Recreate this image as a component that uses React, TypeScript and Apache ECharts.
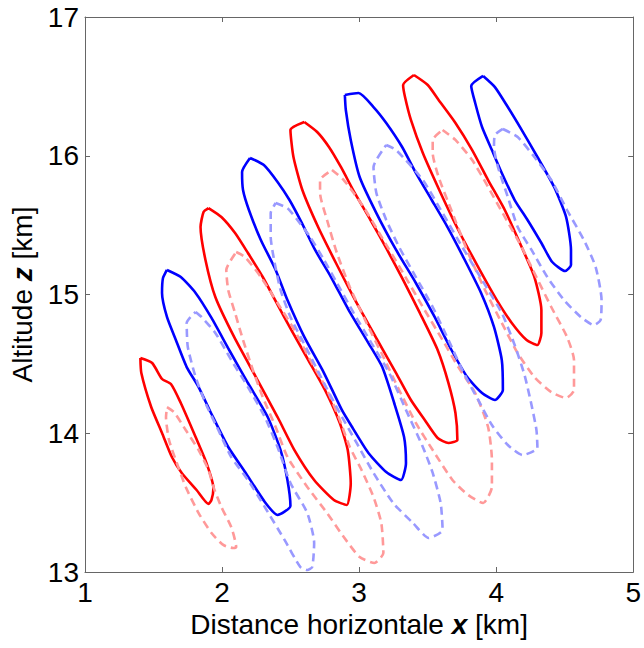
import React, { useEffect, useRef } from "react";
import * as echarts from "echarts";

// Axis ranges / ticks (km)
const xTicks = [1, 2, 3, 4, 5];
const yTicks = [13, 14, 15, 16, 17];

// Contour lines [x km, z km]
const red1 = [[1.404,14.542],[1.490,14.506],[1.562,14.391],[1.627,14.355],[1.699,14.218],[1.807,13.973],[1.886,13.786],[1.937,13.605],[1.923,13.519],[1.901,13.490],[1.814,13.591],[1.706,13.714],[1.634,13.829],[1.562,14.002],[1.483,14.189],[1.411,14.434]];
const blue1 = [[1.598,15.177],[1.699,15.126],[1.807,15.011],[1.923,14.831],[2.052,14.600],[2.189,14.362],[2.333,14.117],[2.427,13.879],[2.477,13.663],[2.499,13.476],[2.405,13.411],[2.312,13.505],[2.168,13.721],[2.045,13.901],[1.923,14.139],[1.829,14.333],[1.742,14.477],[1.663,14.672],[1.598,14.838],[1.562,15.011],[1.569,15.119]];
const red2 = [[1.901,15.623],[1.995,15.559],[2.095,15.443],[2.189,15.299],[2.297,15.126],[2.398,14.939],[2.506,14.744],[2.629,14.528],[2.751,14.312],[2.859,14.074],[2.917,13.879],[2.939,13.641],[2.910,13.483],[2.816,13.519],[2.672,13.663],[2.528,13.879],[2.405,14.117],[2.247,14.405],[2.088,14.694],[1.951,14.982],[1.879,15.249],[1.843,15.486],[1.865,15.595]];
const blue2 = [[2.204,15.984],[2.305,15.933],[2.405,15.811],[2.492,15.681],[2.578,15.523],[2.679,15.321],[2.795,15.126],[2.924,14.888],[3.068,14.650],[3.169,14.477],[3.256,14.218],[3.328,13.973],[3.342,13.786],[3.306,13.663],[3.198,13.721],[3.068,13.858],[2.953,14.038],[2.874,14.168],[2.744,14.434],[2.600,14.694],[2.477,14.960],[2.391,15.177],[2.283,15.393],[2.196,15.609],[2.153,15.753],[2.146,15.883]];
const red3 = [[2.600,16.243],[2.694,16.171],[2.780,16.063],[2.867,15.919],[2.968,15.732],[3.083,15.537],[3.205,15.321],[3.321,15.105],[3.443,14.867],[3.573,14.600],[3.652,14.362],[3.703,14.146],[3.717,13.951],[3.652,13.930],[3.573,13.966],[3.479,14.096],[3.378,14.240],[3.270,14.434],[3.133,14.672],[2.982,14.939],[2.831,15.227],[2.701,15.486],[2.586,15.753],[2.521,15.991],[2.499,16.186]];
const blue3 = [[2.896,16.438],[2.996,16.452],[3.105,16.351],[3.198,16.236],[3.314,16.063],[3.414,15.876],[3.530,15.681],[3.645,15.486],[3.760,15.270],[3.890,15.011],[3.984,14.766],[4.041,14.528],[4.049,14.312],[3.991,14.240],[3.897,14.290],[3.789,14.405],[3.674,14.600],[3.551,14.838],[3.414,15.083],[3.270,15.321],[3.126,15.587],[3.004,15.847],[2.939,16.114],[2.903,16.330]];
const red4 = [[3.400,16.582],[3.501,16.510],[3.580,16.402],[3.703,16.236],[3.825,16.041],[3.941,15.825],[4.063,15.609],[4.186,15.342],[4.279,15.126],[4.330,14.888],[4.330,14.723],[4.301,14.636],[4.222,14.672],[4.114,14.795],[4.005,14.960],[3.869,15.198],[3.724,15.465],[3.595,15.732],[3.465,16.020],[3.378,16.258],[3.335,16.423],[3.321,16.510]];
const blue4 = [[3.905,16.575],[3.991,16.495],[4.085,16.351],[4.186,16.186],[4.301,15.991],[4.423,15.775],[4.510,15.559],[4.546,15.321],[4.546,15.213],[4.503,15.169],[4.409,15.234],[4.330,15.371],[4.229,15.537],[4.135,15.681],[4.041,15.876],[3.969,16.041],[3.897,16.207],[3.847,16.380],[3.818,16.503]];

const pink1 = [[1.598,14.189],[1.649,14.153],[1.735,14.023],[1.829,13.879],[1.901,13.735],[1.937,13.613],[1.995,13.468],[2.067,13.324],[2.103,13.180],[2.081,13.173],[2.009,13.195],[1.923,13.281],[1.829,13.425],[1.735,13.613],[1.670,13.786],[1.613,13.951],[1.591,14.117]];
const lightBlue1 = [[1.807,14.874],[1.850,14.838],[1.951,14.723],[2.067,14.528],[2.189,14.333],[2.312,14.117],[2.405,13.901],[2.499,13.641],[2.622,13.425],[2.672,13.209],[2.658,13.036],[2.622,13.014],[2.571,13.036],[2.456,13.231],[2.312,13.468],[2.189,13.663],[2.067,13.829],[1.973,14.023],[1.879,14.218],[1.807,14.405],[1.750,14.622],[1.742,14.795]];
const pink2 = [[2.103,15.306],[2.168,15.270],[2.283,15.126],[2.405,14.939],[2.528,14.744],[2.643,14.528],[2.766,14.312],[2.859,14.096],[2.932,13.901],[3.018,13.735],[3.105,13.541],[3.162,13.353],[3.177,13.137],[3.112,13.065],[3.004,13.108],[2.888,13.252],[2.766,13.425],[2.622,13.613],[2.477,13.829],[2.391,14.045],[2.297,14.261],[2.225,14.456],[2.153,14.672],[2.095,14.867],[2.045,15.032],[2.031,15.177]];
const lightBlue2 = [[2.391,15.659],[2.477,15.623],[2.550,15.537],[2.643,15.414],[2.744,15.249],[2.838,15.083],[2.960,14.867],[3.090,14.650],[3.220,14.434],[3.342,14.168],[3.465,13.901],[3.537,13.714],[3.595,13.497],[3.609,13.303],[3.508,13.245],[3.393,13.353],[3.249,13.497],[3.105,13.714],[2.982,13.930],[2.859,14.146],[2.744,14.362],[2.622,14.600],[2.499,14.838],[2.427,15.032],[2.384,15.227],[2.355,15.414],[2.355,15.587]];
const pink3 = [[2.802,15.897],[2.888,15.825],[3.032,15.631],[3.177,15.393],[3.321,15.155],[3.465,14.910],[3.609,14.672],[3.724,14.477],[3.847,14.290],[3.941,14.045],[3.969,13.807],[3.969,13.613],[3.905,13.497],[3.796,13.555],[3.681,13.663],[3.537,13.879],[3.414,14.074],[3.292,14.312],[3.177,14.550],[3.054,14.795],[2.932,15.054],[2.838,15.299],[2.766,15.537],[2.715,15.732],[2.715,15.825]];
const lightBlue3 = [[3.198,16.077],[3.270,16.041],[3.465,15.825],[3.609,15.587],[3.753,15.342],[3.897,15.105],[4.041,14.867],[4.135,14.636],[4.207,14.420],[4.258,14.204],[4.294,14.023],[4.301,13.894],[4.193,13.843],[4.085,13.915],[3.969,14.059],[3.869,14.240],[3.760,14.441],[3.652,14.672],[3.537,14.910],[3.414,15.126],[3.292,15.342],[3.198,15.537],[3.126,15.732],[3.105,15.919]];
const pink4 = [[3.609,16.186],[3.703,16.114],[3.825,15.969],[3.941,15.775],[4.063,15.559],[4.186,15.342],[4.279,15.155],[4.402,14.910],[4.517,14.694],[4.568,14.528],[4.568,14.312],[4.510,14.254],[4.402,14.297],[4.279,14.405],[4.157,14.578],[4.041,14.795],[3.919,15.032],[3.796,15.299],[3.681,15.587],[3.580,15.847],[3.537,16.020],[3.537,16.114]];
const lightBlue4 = [[4.049,16.193],[4.157,16.135],[4.279,15.991],[4.402,15.825],[4.517,15.609],[4.640,15.393],[4.726,15.198],[4.769,14.960],[4.762,14.816],[4.712,14.780],[4.618,14.838],[4.495,14.960],[4.373,15.126],[4.258,15.321],[4.157,15.486],[4.085,15.703],[4.013,15.919],[3.984,16.063],[3.991,16.150]];

const solidRed = [red1, red2, red3, red4];
const solidBlue = [blue1, blue2, blue3, blue4];
const dashedPink = [pink1, pink2, pink3, pink4];
const dashedLightBlue = [lightBlue1, lightBlue2, lightBlue3, lightBlue4];

const FONT = "'Liberation Sans', Arial, Helvetica, sans-serif";

function contour(name: string, pts: number[][], color: string, dashed: boolean) {
  return {
    name,
    type: "line",
    data: [...pts, pts[0]],
    showSymbol: false,
    symbol: "none",
    smooth: 0.2,
    silent: true,
    lineStyle: { color, width: 2.6, type: dashed ? [8, 5] : "solid" },
    z: dashed ? 3 : 2,
  };
}

export default function App() {
  const ref = useRef<HTMLDivElement>(null);
  useEffect(() => {
    if (!ref.current) return;
    const chart = echarts.init(ref.current, undefined, { renderer: "svg" });
    const axisLine = { show: true, lineStyle: { color: "#666", width: 1 } };
    const tick = { show: true, inside: true, length: 5, lineStyle: { color: "#666", width: 1 } };
    const label = { fontSize: 28, color: "#000", fontFamily: FONT };
    const series: any[] = [];
    solidRed.forEach((c, i) => series.push(contour("red" + i, c, "#ff0000", false)));
    solidBlue.forEach((c, i) => series.push(contour("blue" + i, c, "#0000ff", false)));
    dashedPink.forEach((c, i) => series.push(contour("pink" + i, c, "#ff9999", true)));
    dashedLightBlue.forEach((c, i) => series.push(contour("lb" + i, c, "#9999ff", true)));
    chart.setOption({
      animation: false,
      backgroundColor: "#fff",
      grid: { left: 85, right: 4, top: 17, bottom: 76, containLabel: false },
      xAxis: [
        {
          type: "value",
          min: xTicks[0],
          max: xTicks[xTicks.length - 1],
          interval: 1,
          position: "bottom",
          axisLine,
          axisTick: tick,
          splitLine: { show: false },
          axisLabel: { ...label, margin: 6 },
          name: "Distance horizontale {b|x} [km]",
          nameLocation: "middle",
          nameGap: 37,
          nameTextStyle: {
            ...label,
            rich: { b: { fontSize: 28, color: "#000", fontFamily: FONT, fontWeight: "bold", fontStyle: "italic" } },
          },
        },
        {
          type: "value",
          min: xTicks[0],
          max: xTicks[xTicks.length - 1],
          interval: 1,
          position: "top",
          axisLine,
          axisTick: tick,
          splitLine: { show: false },
          axisLabel: { show: false },
        },
      ],
      yAxis: [
        {
          type: "value",
          min: yTicks[0],
          max: yTicks[yTicks.length - 1],
          interval: 1,
          position: "left",
          axisLine,
          axisTick: tick,
          splitLine: { show: false },
          axisLabel: { ...label, margin: 6 },
          name: "Altitude {b|z} [km]",
          nameLocation: "middle",
          nameGap: 39,
          nameTextStyle: {
            ...label,
            rich: { b: { fontSize: 28, color: "#000", fontFamily: FONT, fontWeight: "bold", fontStyle: "italic" } },
          },
        },
        {
          type: "value",
          min: yTicks[0],
          max: yTicks[yTicks.length - 1],
          interval: 1,
          position: "right",
          axisLine,
          axisTick: tick,
          splitLine: { show: false },
          axisLabel: { show: false },
        },
      ],
      series,
    });
    return () => chart.dispose();
  }, []);
  return (
    <div
      ref={ref}
      style={{ position: "fixed", left: 0, top: 0, width: 644, height: 648, background: "#fff" }}
    />
  );
}
